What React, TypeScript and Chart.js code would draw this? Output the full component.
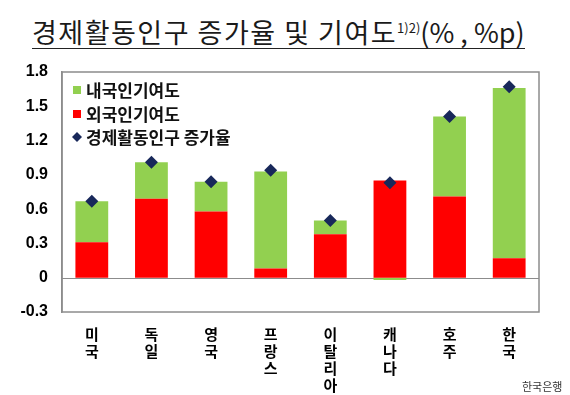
import React, { useEffect, useRef } from "react";
import { Chart, registerables } from "chart.js";

Chart.register(...registerables);

const categories: string[][] = [
  ["미", "국"],
  ["독", "일"],
  ["영", "국"],
  ["프", "랑", "스"],
  ["이", "탈", "리", "아"],
  ["캐", "나", "다"],
  ["호", "주"],
  ["한", "국"],
];
const foreignContribution = [0.31, 0.69, 0.58, 0.08, 0.38, 0.85, 0.71, 0.17];
const domesticContribution = [0.36, 0.32, 0.26, 0.85, 0.12, -0.02, 0.7, 1.49];
const laborForceGrowth = [0.67, 1.01, 0.84, 0.94, 0.5, 0.83, 1.41, 1.67];
const legendLabels = ["내국인기여도", "외국인기여도", "경제활동인구 증가율"];
const yMin = -0.3;
const yMax = 1.8;
const yStep = 0.3;

const GREEN = "#92D050";
const RED = "#FF0000";
const NAVY = "#18285A";
const AXIS = "#8C8C8C";
const KFONT = "'Noto Sans CJK KR', 'Noto Sans', sans-serif";

const framePlugin = {
  id: "frame",
  beforeDatasetsDraw(chart: any) {
    const { ctx, chartArea, scales } = chart;
    const y0 = Math.round(scales.y.getPixelForValue(0)) + 0.5;
    ctx.save();
    ctx.strokeStyle = AXIS;
    ctx.lineWidth = 1;
    ctx.beginPath();
    ctx.moveTo(chartArea.left, y0);
    ctx.lineTo(chartArea.right, y0);
    ctx.stroke();
    ctx.restore();
  },
  afterDraw(chart: any) {
    const { ctx, chartArea } = chart;
    ctx.save();
    ctx.strokeStyle = AXIS;
    ctx.lineWidth = 1.5;
    ctx.strokeRect(
      chartArea.left,
      chartArea.top,
      chartArea.right - chartArea.left,
      chartArea.bottom - chartArea.top
    );
    // legend
    const lx = chartArea.left + 11;
    const tx = chartArea.left + 24;
    const rows = [chartArea.top + 18, chartArea.top + 42, chartArea.top + 65];
    ctx.font = `bold 17px ${KFONT}`;
    ctx.textBaseline = "middle";
    ctx.fillStyle = GREEN;
    ctx.fillRect(lx, rows[0] - 4, 8, 8);
    ctx.fillStyle = RED;
    ctx.fillRect(lx, rows[1] - 4, 8, 8);
    ctx.fillStyle = NAVY;
    ctx.beginPath();
    ctx.moveTo(lx + 4, rows[2] - 5);
    ctx.lineTo(lx + 9, rows[2]);
    ctx.lineTo(lx + 4, rows[2] + 5);
    ctx.lineTo(lx - 1, rows[2]);
    ctx.closePath();
    ctx.fill();
    ctx.fillStyle = "#111";
    legendLabels.forEach((t, i) => ctx.fillText(t, tx, rows[i] + 1));
    ctx.restore();
  },
};

export default function App() {
  const ref = useRef<HTMLCanvasElement>(null);
  useEffect(() => {
    if (!ref.current) return;
    const chart = new Chart(ref.current, {
      type: "bar",
      data: {
        labels: categories as any,
        datasets: [
          {
            type: "line",
            label: legendLabels[2],
            data: laborForceGrowth,
            showLine: false,
            pointStyle: "rectRot",
            pointRadius: 6.5,
            pointBackgroundColor: NAVY,
            pointBorderColor: NAVY,
            pointBorderWidth: 0,
            backgroundColor: NAVY,
            borderColor: NAVY,
            order: 0,
          } as any,
          {
            label: legendLabels[1],
            data: foreignContribution,
            backgroundColor: RED,
            stack: "s",
            order: 1,
          },
          {
            label: legendLabels[0],
            data: domesticContribution,
            backgroundColor: GREEN,
            stack: "s",
            order: 2,
          },
        ],
      },
      options: {
        responsive: false,
        animation: false,
        devicePixelRatio: 1,
        layout: { padding: { left: 0, top: 72, right: 31, bottom: 0 } },
        datasets: {
          bar: { barPercentage: 0.55, categoryPercentage: 1 },
        } as any,
        plugins: {
          legend: { display: false },
          title: { display: false },
          tooltip: { enabled: false },
        },
        scales: {
          x: {
            stacked: true,
            grid: { display: false },
            border: { display: false },
            ticks: {
              color: "#000",
              font: { family: KFONT, size: 15, weight: "bold", lineHeight: 1.12 },
              padding: 6,
              maxRotation: 0,
              autoSkip: false,
            },
            afterFit(scale: any) {
              scale.height = 83;
            },
          },
          y: {
            stacked: true,
            min: yMin,
            max: yMax,
            grid: { display: false, drawTicks: false },
            border: { display: true, color: AXIS, width: 1.5 },
            ticks: {
              stepSize: yStep,
              color: "#000",
              padding: 14,
              font: { family: "'Liberation Sans', Arial, sans-serif", size: 16, weight: "bold" },
              callback: (v: any) => {
                const n = Math.round(Number(v) * 10) / 10;
                return n === 0 ? "0" : n.toFixed(1);
              },
            },
            afterFit(scale: any) {
              scale.width = 62;
            },
          },
        },
      },
      plugins: [framePlugin],
    });
    return () => chart.destroy();
  }, []);

  return (
    <div
      style={{
        position: "absolute",
        left: 0,
        top: 0,
        width: 570,
        height: 395,
        background: "#fff",
        overflow: "hidden",
      }}
    >
      <div
        style={{
          position: "absolute",
          left: 32,
          top: 13,
          whiteSpace: "nowrap",
          fontFamily: KFONT,
          fontSize: 27,
          letterSpacing: 1.5,
          lineHeight: "29px",
          color: "#1a1a1a",
          borderBottom: "1.5px solid #222",
          paddingBottom: 2,
        }}
      >
        경제활동인구 증가율 및 기여도
        <span style={{ fontSize: 13, letterSpacing: 0, verticalAlign: 10 }}>1)2)</span>
        <span style={{ letterSpacing: 0 }}>(% , %p)</span>
      </div>
      <canvas ref={ref} width={570} height={395} style={{ position: "absolute", left: 0, top: 0 }} />
      <div
        style={{
          position: "absolute",
          left: 522,
          top: 380,
          fontFamily: KFONT,
          fontSize: 11,
          lineHeight: "13px",
          color: "#333",
          whiteSpace: "nowrap",
        }}
      >
        한국은행
      </div>
    </div>
  );
}
